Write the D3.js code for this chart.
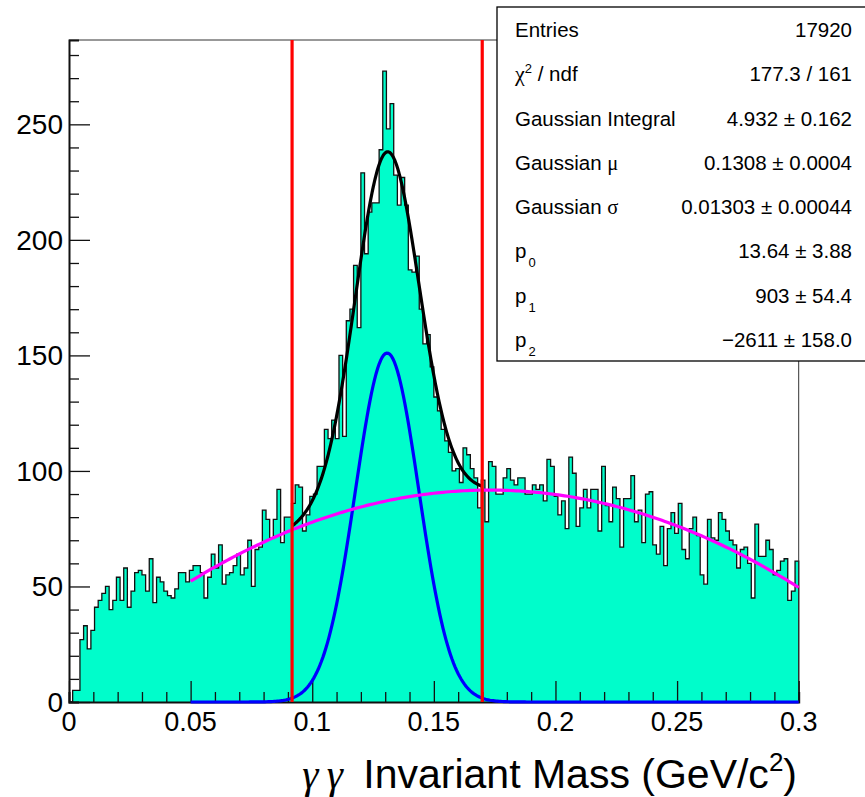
<!DOCTYPE html>
<html>
<head>
<meta charset="utf-8">
<script src="https://cdn.jsdelivr.net/npm/d3@7"></script>
<style>
  body { margin: 0; background: #fff; }
  text { font-family: "Liberation Sans", Arial, Helvetica, sans-serif; fill: #000; }
  .greek { font-family: "Liberation Serif", "DejaVu Serif", serif; }
</style>
</head>
<body>
<div class="chart"></div>
<script>
// Histogram: 200 bins from 0 to 0.3 (bin width 0.0015)
let binStart = 0;
let binWidth = 0.0015;
let counts = [
  0, 5, 5, 27, 33, 23, 31, 41, 44, 47,
  50, 40, 44, 54, 44, 58, 41, 48, 56, 57,
  55, 48, 62, 43, 54, 52, 48, 46, 45, 49,
  56, 56, 52, 57, 59, 59, 56, 45, 54, 64,
  58, 68, 51, 55, 56, 59, 64, 55, 58, 70,
  50, 66, 67, 83, 79, 71, 79, 92, 69, 80,
  80, 86, 94, 93, 74, 81, 89, 90, 102, 102,
  118, 114, 122, 114, 150, 115, 165, 170, 189, 162,
  229, 194, 212, 216, 216, 239, 273, 248, 259, 228,
  215, 227, 215, 187, 186, 193, 170, 155, 159, 145,
  132, 126, 118, 113, 108, 100, 101, 95, 110, 107,
  101, 97, 84, 96, 78, 104, 102, 90, 90, 97,
  101, 96, 94, 97, 97, 90, 90, 94, 92, 94,
  87, 105, 102, 89, 81, 87, 75, 106, 99, 76,
  84, 92, 84, 92, 92, 74, 102, 85, 78, 93,
  88, 67, 88, 88, 98, 78, 83, 69, 90, 91,
  68, 64, 76, 59, 75, 82, 73, 86, 66, 62,
  75, 80, 72, 55, 51, 79, 71, 70, 82, 79,
  74, 70, 68, 58, 66, 67, 60, 45, 77, 63,
  63, 70, 66, 55, 57, 61, 62, 44, 48, 61
];

// Fit results (gausn + pol2), fit range and signal window
let gausIntegral = 4.932;
let gausMean = 0.1308;
let gausSigma = 0.01303;
let polCoef = [13.64, 903, -2611];
let fitRange = [0.05, 0.3];
let windowNSigma = 3;

// Axis ticks
let xTicks = [0, 0.05, 0.1, 0.15, 0.2, 0.25, 0.3];
let yTicks = [0, 50, 100, 150, 200, 250];

// Stats box
let statLabels = ["Entries", "chi2", "Gaussian Integral", "Gaussian mu", "Gaussian sigma", "p0", "p1", "p2"];
let statValues = ["17920", "177.3 / 161", "4.932 \u00b1 0.162", "0.1308 \u00b1 0.0004",
  "0.01303 \u00b1 0.00044", "13.64 \u00b1 3.88", "903 \u00b1 54.4", "\u22122611 \u00b1 158.0"];

// Set up chart
let svgWidth = 865;
let svgHeight = 797;
let margin = { top: 40, right: 66.3, bottom: 95, left: 69 };
let chartWidth = svgWidth - margin.left - margin.right;
let chartHeight = svgHeight - margin.top - margin.bottom;

let svg = d3.select(".chart")
  .append("svg")
  .attr("width", svgWidth)
  .attr("height", svgHeight);

let chart = svg.append("g")
  .attr("transform", `translate(${margin.left}, ${margin.top})`);

let xScale = d3.scaleLinear().domain([0, 0.3]).range([0, chartWidth]);
let yScale = d3.scaleLinear().domain([0, 286.5]).range([chartHeight, 0]);

// Histogram as a filled step path
let bins = counts.map((c, i) => ({ x0: binStart + i * binWidth, x1: binStart + (i + 1) * binWidth, n: c }));
let stepPts = [[xScale(bins[0].x0), yScale(0)]];
bins.forEach(b => {
  stepPts.push([xScale(b.x0), yScale(b.n)]);
  stepPts.push([xScale(b.x1), yScale(b.n)]);
});
stepPts.push([xScale(bins[bins.length - 1].x1), yScale(0)]);

chart.append("path")
  .attr("d", d3.line()(stepPts) + "Z")
  .attr("fill", "#00fdcb")
  .attr("stroke", "none");
chart.append("path")
  .attr("d", d3.line()(stepPts))
  .attr("fill", "none")
  .attr("stroke", "#111")
  .attr("stroke-width", 1.3);

// Frame top and right
chart.append("line").attr("x1", 0).attr("x2", chartWidth).attr("y1", 0).attr("y2", 0)
  .attr("stroke", "#333").attr("stroke-width", 1);
chart.append("line").attr("x1", chartWidth).attr("x2", chartWidth).attr("y1", 0).attr("y2", chartHeight)
  .attr("stroke", "#333").attr("stroke-width", 1);

// Axes (ROOT style: ticks point inward)
let xAxis = chart.append("g").attr("transform", `translate(0, ${chartHeight})`);
xAxis.call(d3.axisTop(xScale).tickValues(d3.range(0, 31).map(d => d / 100)).tickSize(10).tickFormat(""));
xAxis.call(g => g.selectAll(".tick").filter(d => xTicks.some(t => Math.abs(t - d) < 1e-9))
  .select("line").attr("y2", -21));
xAxis.selectAll(".tick line").attr("stroke", "#111").attr("stroke-width", 1.3);
xAxis.select(".domain").attr("stroke", "#111").attr("stroke-width", 2);

let yAxis = chart.append("g");
yAxis.call(d3.axisRight(yScale).tickValues(d3.range(0, 290, 10)).tickSize(10).tickFormat(""));
yAxis.call(g => g.selectAll(".tick").filter(d => yTicks.includes(d))
  .select("line").attr("x2", 21));
yAxis.selectAll(".tick line").attr("stroke", "#111").attr("stroke-width", 1.3);
yAxis.select(".domain").attr("stroke", "#111").attr("stroke-width", 2);

// Tick labels
chart.selectAll(".xlab").data(xTicks).enter().append("text")
  .attr("x", d => xScale(d))
  .attr("y", chartHeight + 29)
  .attr("text-anchor", "middle")
  .style("font-size", "27px")
  .text(d => d3.format("~g")(d));

chart.selectAll(".ylab").data(yTicks).enter().append("text")
  .attr("x", -6)
  .attr("y", d => yScale(d) + 10)
  .attr("text-anchor", "end")
  .style("font-size", "28px")
  .text(d => d);

// Fit functions
let gausAmp = gausIntegral / (gausSigma * Math.sqrt(2 * Math.PI));
let gausFn = x => gausAmp * Math.exp(-0.5 * Math.pow((x - gausMean) / gausSigma, 2));
let polFn = x => polCoef[0] + polCoef[1] * x + polCoef[2] * x * x;
let totalFn = x => gausFn(x) + polFn(x);
let lo = gausMean - windowNSigma * gausSigma;
let hi = gausMean + windowNSigma * gausSigma;

let curveLine = d3.line().x(d => xScale(d[0])).y(d => yScale(d[1]));
function sample(fn, a, b, n) {
  return d3.range(n + 1).map(i => { let x = a + (b - a) * i / n; return [x, fn(x)]; });
}

chart.append("path").attr("d", curveLine(sample(gausFn, fitRange[0], fitRange[1], 400)))
  .attr("fill", "none").attr("stroke", "#0000ff").attr("stroke-width", 3.2);
chart.append("path").attr("d", curveLine(sample(polFn, fitRange[0], fitRange[1], 200)))
  .attr("fill", "none").attr("stroke", "#ff00ff").attr("stroke-width", 3.2);
chart.append("path").attr("d", curveLine(sample(totalFn, lo, hi, 300)))
  .attr("fill", "none").attr("stroke", "#000").attr("stroke-width", 3.2);

// Signal window lines at mu +- 3 sigma
chart.selectAll(".win").data([lo, hi]).enter().append("line")
  .attr("x1", d => xScale(d)).attr("x2", d => xScale(d))
  .attr("y1", 0).attr("y2", chartHeight)
  .attr("stroke", "#ff0000").attr("stroke-width", 3.2);

// X axis title
let title = svg.append("text")
  .attr("x", 797)
  .attr("y", 788)
  .attr("text-anchor", "end")
  .style("font-size", "41px");
title.append("tspan").attr("class", "greek").style("font-style", "italic").text("\u03b3\u2009\u03b3");
title.append("tspan").text("\u2002Invariant Mass (GeV/c");
title.append("tspan").attr("dy", -17).style("font-size", "26px").text("2");
title.append("tspan").attr("dy", 17).text(")");

// Stats box
let box = svg.append("g").attr("transform", "translate(497, 7)");
let boxH = 354;
let rowH = boxH / statLabels.length;
box.append("rect").attr("x", 0).attr("y", 0).attr("width", 380).attr("height", boxH)
  .attr("fill", "#fff").attr("stroke", "#000").attr("stroke-width", 1.3);

let rows = box.selectAll(".row").data(statLabels).enter().append("g")
  .attr("transform", (d, i) => `translate(0, ${rowH * i + rowH / 2 + 8})`);

rows.each(function(d, i) {
  let t = d3.select(this).append("text").attr("x", 18).style("font-size", "20.5px");
  if (d === "chi2") {
    t.append("tspan").attr("class", "greek").style("font-size", "22px").text("\u03c7");
    t.append("tspan").attr("dy", -8).style("font-size", "13px").text("2");
    t.append("tspan").attr("dy", 8).text(" / ndf");
  } else if (d === "Gaussian mu") {
    t.append("tspan").text("Gaussian ");
    t.append("tspan").attr("class", "greek").text("\u03bc");
  } else if (d === "Gaussian sigma") {
    t.append("tspan").text("Gaussian ");
    t.append("tspan").attr("class", "greek").text("\u03c3");
  } else if (d[0] === "p") {
    t.append("tspan").text("p");
    t.append("tspan").attr("dy", 9).attr("dx", 2).style("font-size", "13px").text(d.slice(1));
  } else {
    t.text(d);
  }
  d3.select(this).append("text")
    .attr("x", 355)
    .attr("text-anchor", "end")
    .style("font-size", "20.5px")
    .text(statValues[i]);
});
</script>
</body>
</html>
